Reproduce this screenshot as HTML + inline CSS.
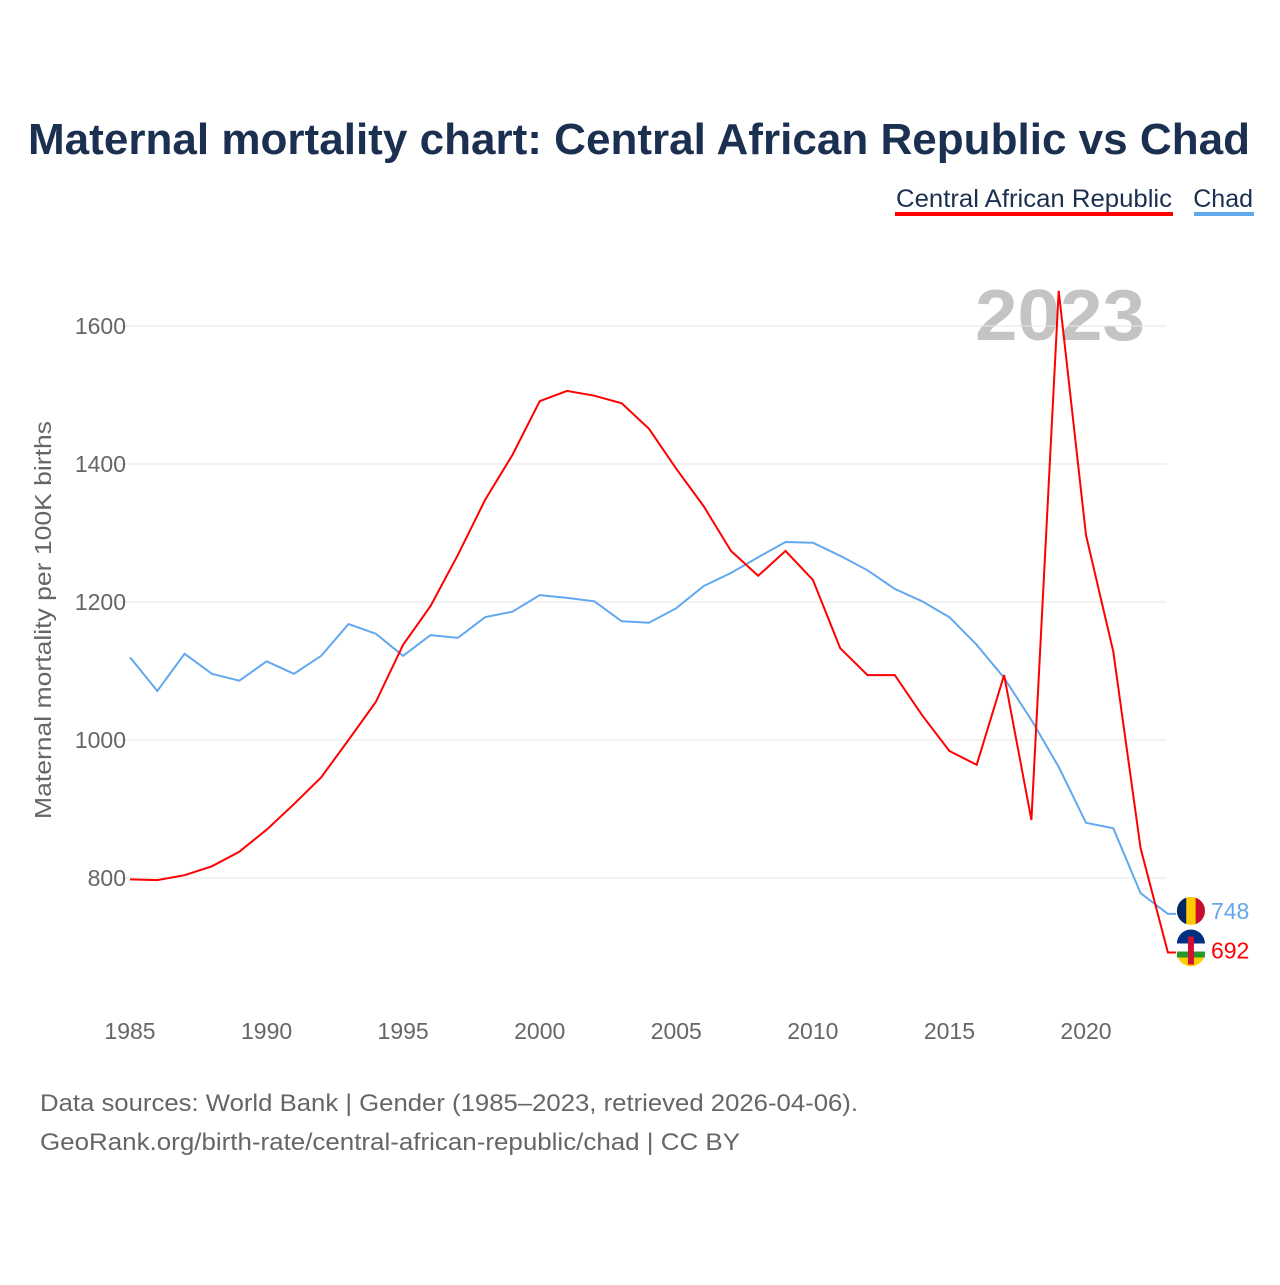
<!DOCTYPE html>
<html><head><meta charset="utf-8">
<style>
body{margin:0;background:#fff;font-family:"Liberation Sans",sans-serif;}
#wrap{position:relative;width:1280px;height:1280px;}
</style></head>
<body>
<div id="wrap">
<svg id="chart" width="1280" height="1280">
<text x="28" y="154" textLength="1222" lengthAdjust="spacingAndGlyphs" font-size="44" font-weight="bold" fill="#1b3050">Maternal mortality chart: Central African Republic vs Chad</text>
<g>
<text x="896" y="207" textLength="276" lengthAdjust="spacingAndGlyphs" font-size="25" fill="#1b3050">Central African Republic</text>
<rect x="895" y="212" width="278" height="4" fill="#ff0000"></rect>
<text x="1253" y="207" text-anchor="end" font-size="25" fill="#1b3050">Chad</text>
<rect x="1194" y="212" width="60" height="4" fill="#62a8ee"></rect>
</g>
<text x="1060" y="340" text-anchor="middle" textLength="170" lengthAdjust="spacingAndGlyphs" font-size="72" font-weight="bold" fill="#c4c4c4">2023</text>
<g id="grid"></g><g id="xt"></g><g id="series"></g>
<text transform="translate(51,620) rotate(-90)" text-anchor="middle" textLength="398" lengthAdjust="spacingAndGlyphs" font-size="23" fill="#666">Maternal mortality per 100K births</text>
<text x="40" y="1111" textLength="818" lengthAdjust="spacingAndGlyphs" font-size="24" fill="#666">Data sources: World Bank | Gender (1985–2023, retrieved 2026-04-06).</text>
<text x="40" y="1150" textLength="700" lengthAdjust="spacingAndGlyphs" font-size="24" fill="#666">GeoRank.org/birth-rate/central-african-republic/chad | CC BY</text>
</svg>
</div>
<script>
const years=[];for(let y=1985;y<=2023;y++)years.push(y);
const carValues=[798,797,804,817,838,870,907,946,1000,1055,1138,1194,1268,1348,1413,1491,1506,1499,1488,1451,1393,1339,1274,1238,1274,1232,1133,1094,1094,1036,984,964,1094,884,1651,1297,1128,843,692];
const chadValues=[1120,1071,1125,1096,1086,1114,1096,1122,1168,1154,1122,1152,1148,1178,1186,1210,1206,1201,1172,1170,1191,1223,1242,1265,1287,1286,1267,1246,1219,1201,1178,1138,1090,1029,961,880,872,778,748];
const yTicks=[800,1000,1200,1400,1600];
const xTicks=[1985,1990,1995,2000,2005,2010,2015,2020];
const NS="http://www.w3.org/2000/svg";
const xS=v=>130+(v-1985)*(1086-130)/35;
const yS=v=>878-(v-800)*0.69;
function mk(t,a,p){const e=document.createElementNS(NS,t);for(const k in a)e.setAttribute(k,a[k]);p.appendChild(e);return e;}
const grid=document.getElementById('grid');
yTicks.forEach(v=>{
 const l=mk('line',{x1:118,x2:1166,y1:yS(v),y2:yS(v),stroke:'#e6e6e6','stroke-width':1},grid);
 
 
 const t=mk('text',{x:126,y:yS(v)+8,'text-anchor':'end','font-size':23,fill:'#666'},grid);t.textContent=v;
 
 
});
const xt=document.getElementById('xt');
xTicks.forEach(v=>{
 const t=mk('text',{x:xS(v),y:1039,'text-anchor':'middle','font-size':23,fill:'#666'},xt);t.textContent=v;
 
 
});
const s=document.getElementById('series');
function line(vals,col,name){
 const d=vals.map((v,i)=>(i?'L':'M')+xS(years[i]).toFixed(1)+','+yS(v).toFixed(1)).join('')+'h8';
 const p=mk('path',{d:d,fill:'none',stroke:col,'stroke-width':2},s);
 
 
}
line(chadValues,'#62a8ee','series-chad');
line(carValues,'#ff0000','series-car');
function endLabel(v,col,name,flag,off){
 const y=yS(v)+off;const x=xS(2023)+23;
 const g=mk('g',{},s);
 
 
 if(flag==='td'){
  mk('circle',{cx:x,cy:y+1,r:14,fill:'#fecb00'},g);
  mk('path',{d:`M${x-4.7},${y-12.2}A14,14 0 0 0 ${x-4.7},${y+14.2}Z`,fill:'#002664'},g);
  mk('path',{d:`M${x+4.7},${y-12.2}A14,14 0 0 1 ${x+4.7},${y+14.2}Z`,fill:'#c60c30'},g);
 }else{
  mk('circle',{cx:x,cy:y+1,r:14,fill:'#fff'},g);
  mk('path',{d:`M${x-14},${y-6}A14,14 0 0 1 ${x+14},${y-6}Z`,fill:'#003082'},g);
  mk('rect',{x:x-14,y:y+2,width:28,height:6,fill:'#289728'},g);
  mk('path',{d:`M${x-13},${y+8}A14,14 0 0 0 ${x+13},${y+8}Z`,fill:'#ffce00'},g);
  mk('rect',{x:x-3,y:y-13,width:6,height:28,fill:'#d21034'},g);
 }
 const t=mk('text',{x:x+20,y:y+9,'font-size':23,fill:col},s);t.textContent=v;
 
 
}
endLabel(chadValues[chadValues.length-1],'#62a8ee','chad-end','td',-4);
endLabel(carValues[carValues.length-1],'#ff0000','car-end','cf',-3);
</script>
</body></html>
